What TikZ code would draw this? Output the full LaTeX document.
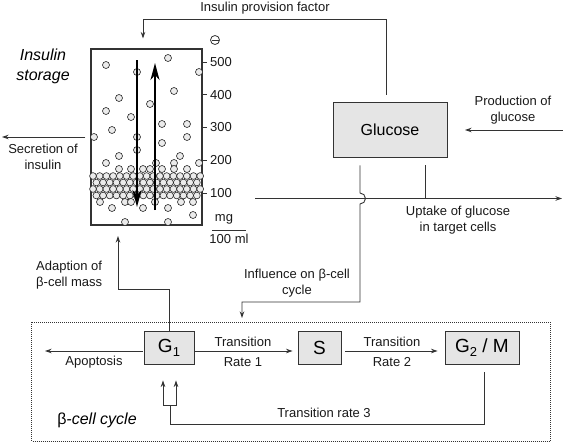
\documentclass[tikz,border=0pt]{standalone}
\usepackage{fontspec}
\setmainfont{Liberation Sans}
\usetikzlibrary{arrows.meta,calc}
\begin{document}
\begin{tikzpicture}[x=1pt,y=-1pt,
  lbl/.style={font=\fontsize{13}{16}\selectfont, align=center, inner sep=0pt, text=black!90},
  ln/.style={draw=black!80, line width=0.9pt},
  arr/.style={ln, -{Stealth[length=6.5pt,width=4.5pt]}},
  gbox/.style={draw=black!80, fill=black!10, line width=0.9pt, minimum height=33pt, inner sep=0pt, font=\fontsize{19}{21}\selectfont},
  ball/.style={draw=black!85, fill=black!8, line width=0.6pt},
  bigarr/.style={line width=1.5pt, draw=black, -{Stealth[length=17pt,width=9pt,inset=5pt]}}
]
\useasboundingbox (0,0) rectangle (563,442);

% insulin storage box
\node[draw=black!80, line width=1.1pt, minimum width=111pt, minimum height=176pt, inner sep=0pt] (sto) at (146.5,137) {};

% dense band of vesicles
\foreach \yy/\off/\n in {176/0/16,182.5/3.35/15,189/0/16,195.5/3.35/15}
  \foreach \k in {0,...,\n}
    \draw[ball] (93+\off+6.7*\k,\yy) circle (3.4);

% scattered vesicles
\foreach \px/\py in {106/65,168/58,137/72,199/72,174/91,119/98,150/104,106/111,131/117,162/124,187/124,112/130,94/137,137/137,187/137,162/143,137/150,119/156,180/156,106/163,156/163,174/163,199/163,119/169,131/169,143/169,150/169,162/169,174/169,187/169,100/202,125/202,131/202,155/202,181/202,193/202,112/208,143/208,168/208,193/215,125/222,168/222}
  \draw[ball] (\px,\py) circle (3.5);

% big arrows in storage
\draw[bigarr] (137,60) -- (137,207);
\draw[bigarr] (155,210) -- (155,63);

% scale
\foreach \v/\yy in {500/62,400/94.75,300/127.5,200/160.25,100/193}{
  \draw[ln] (202,\yy) -- (207,\yy);
  \node[lbl, anchor=west] (t\v) at (210,\yy) {\v};
}
\draw[ln, line width=0.8pt] (215,40) circle (4.5);
\draw[ln, line width=0.8pt] (211.5,40) -- (218.5,40);
\node[lbl] (mg) at (224,219) {mg};
\draw[ln] (212,230.5) -- (246,230.5);
\node[lbl] (ml) at (229,239) {100 ml};

\node[font=\itshape\fontsize{16}{20}\selectfont, align=center, inner sep=0pt] (ist) at (43,66) {Insulin\\storage};

% secretion
\coordinate (secE) at (2,137);
\draw[arr] ($(sto.west)+(-5,0)$) -- (secE);
\node[lbl] (sec) at (43,156.5) {Secretion of\\insulin};

% glucose
\node[gbox, minimum width=114pt, minimum height=55pt, font=\fontsize{16}{18}\selectfont] (glu) at (390,129.5) {Glucose};

% insulin provision factor
\draw[arr] ($(glu.north)+(-4,-7)$) -- (386,19) -- (143,19) -- ($(sto.north)+(-3.5,-10)$);
\node[lbl] (ipf) at (265,8) {Insulin provision factor};

% production
\coordinate (prodS) at (563,130);
\coordinate (prodE) at (465,130);
\draw[arr] (prodS) -- (prodE);
\node[lbl] (prod) at (513,110) {Production of\\glucose};

% uptake
\coordinate (upS) at (255,198.5);
\coordinate (upE) at (562,198.5);
\draw[arr] (upS) -- (upE);
\draw[ln] ($(glu.south)+(35,8)$) -- (425,198.5);
\node[lbl] (upt) at (458,220) {Uptake of glucose\\in target cells};

% influence on beta-cell cycle
\coordinate (infE) at (242,318);
\draw[arr] ($(glu.south)+(-30,8)$) -- (360,193) arc[start angle=-90,end angle=90,radius=5.5] -- (360,302) -| (infE);
\node[lbl] (inf) at (297,283.5) {Influence on β-cell\\cycle};

% cell cycle boxes
\node[gbox, minimum width=50pt] (g1) at (169,347.5) {G\raisebox{-0.22em}{\fontsize{13}{13}\selectfont 1}};
\node[gbox, minimum width=43pt] (s) at (319.5,347.5) {S};
\node[gbox, minimum width=74pt] (g2) at (482,347.5) {G\raisebox{-0.22em}{\fontsize{13}{13}\selectfont 2} / M};

\draw[arr] ($(g1.east)+(1,3.5)$) -- ($(s.west)+(-5,3.5)$);
\node[lbl] (tr1a) at (243,342) {Transition};
\node[lbl] (tr1b) at (243,362) {Rate 1};
\draw[arr] ($(s.east)+(4,3.5)$) -- ($(g2.west)+(-7,3.5)$);
\node[lbl] (tr2a) at (392,342) {Transition};
\node[lbl] (tr2b) at (392,362) {Rate 2};

\coordinate (apoE) at (45,351);
\draw[arr] ($(g1.west)+(-1,3.5)$) -- (apoE);
\node[lbl] (apo) at (94,362) {Apoptosis};

% adaption
\coordinate (adE) at (118,236);
\draw[arr] (g1.north) |- ($(adE)+(0,53)$) -- (adE);
\node[lbl, anchor=west, align=left] (ada) at (36,275.5) {Adaption of\\β-cell mass};

% transition rate 3
\coordinate (r3j) at ($(g1.south)+(1,41)$);
\coordinate (r3a) at ($(g1.south)+(-6,16)$);
\coordinate (r3b) at ($(g1.south)+(7,16)$);
\draw[ln] ($(g2.south)+(2,8)$) |- ($(r3j)+(0,19)$) -- (r3j);
\draw[arr] (r3j) -| (r3a);
\draw[arr] (r3j) -| (r3b);
\node[lbl] (tr3) at (324,413) {Transition rate 3};

\node[font=\fontsize{16}{19}\selectfont, inner sep=0pt] (bcc) at (97,420) {β\textit{-cell cycle}};

% dotted frame
\draw[draw=black!80, line width=0.75pt, dash pattern=on 0.75pt off 1.25pt] (31.5,322) rectangle (550,441);
\end{tikzpicture}
\end{document}
